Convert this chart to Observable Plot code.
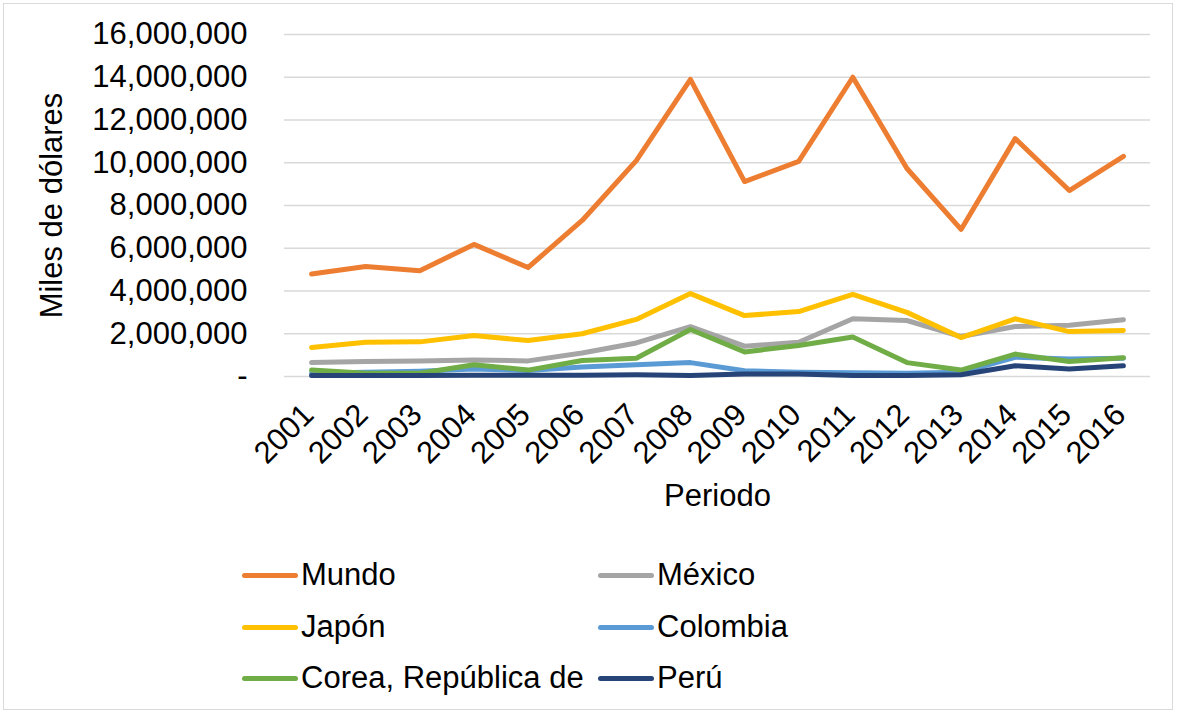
<!DOCTYPE html>
<html>
<head>
<meta charset="utf-8">
<script src="https://cdn.jsdelivr.net/npm/d3@7"></script>
<script src="https://cdn.jsdelivr.net/npm/@observablehq/plot@0.6"></script>
<style>
  html, body { margin: 0; padding: 0; background: #fff; }
  body { width: 1178px; height: 715px; position: relative; overflow: hidden; font-family: "Liberation Sans", Arial, sans-serif; }
  #frame { position: absolute; left: 3px; top: 3px; width: 1170px; height: 707px; border: 1px solid #d9d9d9; box-sizing: border-box; }
  #chart { position: absolute; left: 0; top: 0; }
  .item { position: absolute; display: flex; align-items: center; font-size: 31px; color: #000; height: 40px; white-space: nowrap; }
  .swatch { display: inline-block; width: 56px; height: 5px; border-radius: 3px; margin-right: 3px; }
</style>
</head>
<body>
<div id="frame"></div>
<div id="chart"></div>
<div id="legend"></div>
<script>
const years = [2001,2002,2003,2004,2005,2006,2007,2008,2009,2010,2011,2012,2013,2014,2015,2016];
const series = ["Mundo","México","Japón","Colombia","Corea, República de","Perú"];
const colors = ["#ED7D31","#A5A5A5","#FFC000","#5B9BD5","#70AD47","#264478"];
const mundo    = [4800000,5150000,4950000,6180000,5100000,7300000,10100000,13900000,9120000,10060000,14000000,9730000,6880000,11130000,8700000,10300000];
const mexico   = [650000,700000,720000,770000,730000,1100000,1570000,2330000,1420000,1600000,2700000,2620000,1870000,2340000,2400000,2650000];
const japon    = [1360000,1600000,1620000,1920000,1680000,2000000,2670000,3880000,2850000,3040000,3840000,3000000,1820000,2700000,2100000,2150000];
const colombia = [150000,200000,250000,350000,280000,450000,550000,650000,270000,200000,180000,150000,200000,900000,820000,850000];
const corea    = [300000,150000,150000,550000,300000,750000,850000,2200000,1150000,1450000,1850000,650000,300000,1050000,700000,880000];
const peru     = [50000,50000,50000,60000,60000,60000,80000,50000,120000,120000,50000,50000,80000,500000,350000,500000];
const yTicks = [0,2000000,4000000,6000000,8000000,10000000,12000000,14000000,16000000];

const values = [mundo, mexico, japon, colombia, corea, peru];
const data = series.flatMap((s, i) => values[i].map((v, j) => ({serie: s, year: years[j], value: v})));
const fmt = d3.format(",");

const chart = Plot.plot({
  width: 1178,
  height: 530,
  marginLeft: 284,
  marginRight: 28,
  marginTop: 34,
  marginBottom: 154,
  style: {fontFamily: "'Liberation Sans', Arial, sans-serif", fontSize: "31px", color: "#000", background: "transparent", overflow: "visible"},
  x: {domain: [2000.5, 2016.5], axis: null},
  y: {domain: [0, 16000000], axis: null},
  color: {domain: series, range: colors},
  marks: [
    Plot.ruleY(yTicks, {y: d => d, stroke: "#d9d9d9", strokeWidth: 1.5}),
    Plot.text(yTicks, {y: d => d, frameAnchor: "left", dx: -37, textAnchor: "end", text: d => d === 0 ? "-" : fmt(d), fill: "#000"}),
    Plot.line(data, {x: "year", y: "value", z: "serie", stroke: "serie", strokeWidth: 5, strokeLinecap: "round", strokeLinejoin: "round"}),
    Plot.text(years, {x: d => d, frameAnchor: "bottom", dx: 4, dy: 40, rotate: -45, textAnchor: "end", text: d => String(d), fill: "#000"}),
    Plot.text(["Periodo"], {frameAnchor: "bottom", dy: 129, textAnchor: "middle", text: d => d, fill: "#000"}),
    Plot.text(["Miles de dólares"], {frameAnchor: "left", dx: -232, rotate: -90, textAnchor: "middle", text: d => d, fill: "#000"})
  ]
});
document.getElementById("chart").appendChild(chart);

const legend = document.getElementById("legend");
const colX = [242, 598];
const rowY = [575, 627, 678];
series.forEach((s, i) => {
  const item = document.createElement("div");
  item.className = "item";
  item.style.left = colX[i % 2] + "px";
  item.style.top = (rowY[Math.floor(i / 2)] - 20) + "px";
  const sw = document.createElement("span");
  sw.className = "swatch";
  sw.style.background = colors[i];
  item.appendChild(sw);
  item.appendChild(document.createTextNode(s));
  legend.appendChild(item);
});
</script>
</body>
</html>
